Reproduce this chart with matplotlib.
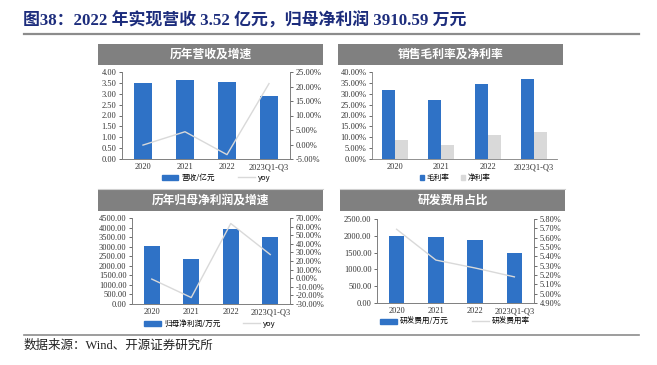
import matplotlib
matplotlib.use('Agg')
import matplotlib.pyplot as plt
from matplotlib.ticker import FuncFormatter, MultipleLocator
from matplotlib.lines import Line2D
from matplotlib.patches import Rectangle, Patch

W, H = 657, 365

years = ['2020', '2021', '2022', '2023Q1-Q3']

# 营收 (亿元) and yoy (%)
revenue = [3.50, 3.65, 3.52, 2.90]
revenue_yoy = [-0.2, 4.4, -3.5, 21.0]

# margins (%)
gross_margin = [31.8, 27.1, 34.3, 36.7]
net_margin = [8.7, 6.5, 11.0, 12.3]

# 归母净利润 (万元) and yoy (%)
net_profit = [3030, 2380, 3910.59, 3530]
net_profit_yoy = [-1.0, -22.5, 63.6, 27.5]

# 研发费用 (万元) and ratio (%)
rd_expense = [1995, 1965, 1865, 1500]
rd_ratio = [5.69, 5.36, 5.275, 5.18]

BLUE = '#2F72C6'
LGRAY = '#D9D9D9'
HEAD = '#808080'
SERIF = ['Liberation Serif', 'Noto Sans CJK SC']
CJK = ['Noto Sans CJK SC', 'DejaVu Sans']

plt.rcParams['font.family'] = SERIF
plt.rcParams['axes.edgecolor'] = '#7F7F7F'
plt.rcParams['axes.linewidth'] = 0.6

fig = plt.figure(figsize=(W / 100, H / 100), dpi=100)


def px_axes(x0, y0, x1, y1):
    # pixel box (top-left origin) -> axes
    return fig.add_axes([x0 / W, 1 - y1 / H, (x1 - x0) / W, (y1 - y0) / H])


def header(x0, y0, x1, y1, text):
    fig.patches.append(Rectangle((x0 / W, 1 - y1 / H), (x1 - x0) / W, (y1 - y0) / H,
                                 transform=fig.transFigure, facecolor=HEAD,
                                 edgecolor='none'))
    fig.text((x0 + x1) / 2 / W, 1 - (y0 + y1) / 2 / H, text, color='white',
             fontsize=8.5, fontweight='bold', family=CJK, ha='center', va='center')


def hline(x0, x1, y, color, lw):
    fig.add_artist(Line2D([x0 / W, x1 / W], [1 - y / H, 1 - y / H],
                          transform=fig.transFigure, color=color, lw=lw))


def style(ax, right=True):
    ax.spines['top'].set_visible(False)
    ax.spines['right'].set_visible(right)
    ax.tick_params(labelsize=6, length=2, width=0.5, pad=2, colors='#333333')
    ax.set_xlim(-0.5, 3.5)
    ax.set_xticks(range(4))
    ax.set_xticklabels(years)
    ax.tick_params(axis='x', length=0, pad=3)


def fmt(dec, pct=False):
    if pct:
        return FuncFormatter(lambda v, p: f'{v:.{dec}f}%')
    return FuncFormatter(lambda v, p: f'{v:.{dec}f}')


def legend(handles, labels, x, y, gap=1.0):
    fig.legend(handles, labels, loc='center', bbox_to_anchor=(x / W, 1 - y / H),
               ncol=len(handles), frameon=False, prop={'family': CJK, 'size': 5.5},
               handlelength=2.2, handleheight=0.6, columnspacing=gap * 3, handletextpad=0.4)


# title
fig.text(23 / W, 1 - 21 / H, '图38：2022 年实现营收 3.52 亿元，归母净利润 3910.59 万元',
         fontsize=12.2, fontweight='bold', color='#1C2C7C', family=SERIF, va='center')
hline(24, 639, 34, '#8C8C8C', 1.6)

# panel 1
header(98, 44, 323, 65, '历年营收及增速')
ax = px_axes(122, 72, 290, 159)
ax.bar(range(4), revenue, width=0.42, color=BLUE)
ax.set_ylim(0, 4)
ax.yaxis.set_major_locator(MultipleLocator(0.5))
ax.yaxis.set_major_formatter(fmt(2))
style(ax)
ax2 = ax.twinx()
ax2.plot(range(4), revenue_yoy, color=LGRAY, lw=1.0)
ax2.set_ylim(-5, 25)
ax2.yaxis.set_major_locator(MultipleLocator(5))
ax2.yaxis.set_major_formatter(fmt(2, True))
ax2.spines['top'].set_visible(False)
ax2.tick_params(labelsize=6, length=2, width=0.5, pad=2, colors='#333333')
legend([Patch(color=BLUE), Line2D([], [], color=LGRAY, lw=1)], ['营收/亿元', 'yoy'], 216, 178)
hline(98, 323, 189, '#D0D0D0', 0.8)

# panel 2
header(338, 44, 563, 65, '销售毛利率及净利率')
ax = px_axes(372, 72, 557, 159)
x = range(4)
ax.bar([i - 0.14 for i in x], gross_margin, width=0.28, color=BLUE)
ax.bar([i + 0.14 for i in x], net_margin, width=0.28, color=LGRAY)
ax.set_ylim(0, 40)
ax.yaxis.set_major_locator(MultipleLocator(5))
ax.yaxis.set_major_formatter(fmt(2, True))
style(ax, right=False)
fig.legend([Patch(color=BLUE), Patch(color=LGRAY)], ['毛利率', '净利率'], loc='center',
           bbox_to_anchor=(455 / W, 1 - 178 / H), ncol=2, frameon=False,
           prop={'family': CJK, 'size': 5.5}, handlelength=0.6, handleheight=0.6,
           columnspacing=1.5, handletextpad=0.3)
hline(340, 565, 189, '#D0D0D0', 0.8)

# panel 3
header(98, 189, 323, 211, '历年归母净利润及增速')
ax = px_axes(132, 218, 290, 304)
ax.bar(range(4), net_profit, width=0.4, color=BLUE)
ax.set_ylim(0, 4500)
ax.yaxis.set_major_locator(MultipleLocator(500))
ax.yaxis.set_major_formatter(fmt(2))
style(ax)
ax2 = ax.twinx()
ax2.plot(range(4), net_profit_yoy, color=LGRAY, lw=1.0)
ax2.set_ylim(-30, 70)
ax2.yaxis.set_major_locator(MultipleLocator(10))
ax2.yaxis.set_major_formatter(fmt(2, True))
ax2.spines['top'].set_visible(False)
ax2.tick_params(labelsize=6, length=2, width=0.5, pad=2, colors='#333333')
legend([Patch(color=BLUE), Line2D([], [], color=LGRAY, lw=1)], ['归母净利润/万元', 'yoy'], 210, 324)

# panel 4
header(340, 189, 565, 211, '研发费用占比')
ax = px_axes(377, 219, 534, 303)
ax.bar(range(4), rd_expense, width=0.4, color=BLUE)
ax.set_ylim(0, 2500)
ax.yaxis.set_major_locator(MultipleLocator(500))
ax.yaxis.set_major_formatter(fmt(2))
style(ax)
ax2 = ax.twinx()
ax2.plot(range(4), rd_ratio, color=LGRAY, lw=1.0)
ax2.set_ylim(4.9, 5.8)
ax2.yaxis.set_major_locator(MultipleLocator(0.1))
ax2.yaxis.set_major_formatter(fmt(2, True))
ax2.spines['top'].set_visible(False)
ax2.tick_params(labelsize=6, length=2, width=0.5, pad=2, colors='#333333')
legend([Patch(color=BLUE), Line2D([], [], color=LGRAY, lw=1)], ['研发费用/万元', '研发费用率'], 455, 322)

# footer
hline(24, 639, 335, '#8C8C8C', 1.2)
fig.text(24 / W, 1 - 346 / H, '数据来源：Wind、开源证券研究所', fontsize=9,
         family=['Liberation Serif', 'Noto Sans CJK SC'], va='center', color='#222222')

fig.savefig('out.png', dpi=100, facecolor='white')
